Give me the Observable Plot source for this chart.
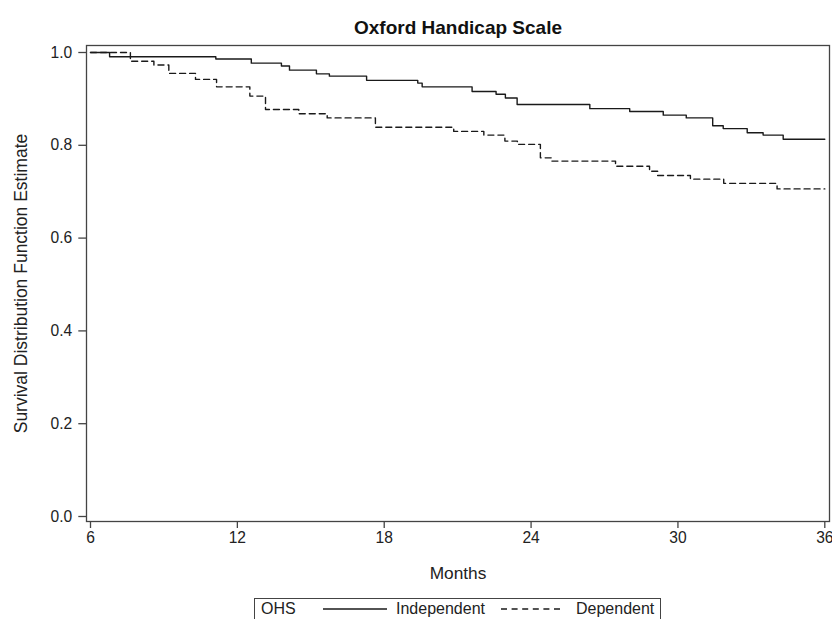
<!DOCTYPE html>
<html>
<head>
<meta charset="utf-8">
<script src="https://cdn.jsdelivr.net/npm/d3@7"></script>
<script src="https://cdn.jsdelivr.net/npm/@observablehq/plot@0.6"></script>
<style>
  html, body { margin: 0; padding: 0; background: #fff; overflow: hidden; }
  #wrap { position: relative; width: 832px; height: 619px; }
  #legend {
    position: absolute; left: 254px; top: 598px; width: 407px; height: 30px;
    border: 1.3px solid #444; box-sizing: border-box;
    font-family: "Liberation Sans", Arial, sans-serif; font-size: 16px; color: #222;
  }
  #legend span, #legend svg { position: absolute; }
  #legend span { top: 1px; line-height: 18px; }
</style>
</head>
<body>
<div id="wrap"></div>
<script>
const titleText = "Oxford Handicap Scale";
const xLabel = "Months";
const yLabel = "Survival Distribution Function Estimate";
const legendTitle = "OHS";
const groups = ["Independent", "Dependent"];
const xTicks = [6, 12, 18, 24, 30, 36];
const yTicks = [0, 0.2, 0.4, 0.6, 0.8, 1.0];

const monthsIndependent = [6, 6.78, 11.12, 12.57, 13.80, 14.13, 15.23, 15.76, 17.28, 19.37, 19.55, 21.59, 22.57, 22.95, 23.43, 26.40, 28.03, 29.40, 30.34, 31.42, 31.85, 32.83, 33.48, 34.30, 36];
const survivalIndependent = [1.0, 0.991, 0.986, 0.977, 0.971, 0.962, 0.954, 0.949, 0.940, 0.934, 0.926, 0.916, 0.910, 0.902, 0.888, 0.879, 0.873, 0.865, 0.859, 0.842, 0.836, 0.827, 0.822, 0.813, 0.813];

const monthsDependent = [6, 7.63, 8.59, 9.20, 10.29, 11.15, 12.51, 13.15, 14.51, 15.67, 17.64, 20.84, 22.07, 22.93, 23.44, 24.38, 24.83, 27.45, 28.84, 29.17, 30.51, 31.87, 34.05, 36];
const survivalDependent = [1.0, 0.981, 0.973, 0.955, 0.942, 0.926, 0.906, 0.877, 0.868, 0.859, 0.839, 0.830, 0.822, 0.809, 0.802, 0.773, 0.766, 0.755, 0.744, 0.735, 0.727, 0.718, 0.706, 0.706];

const ind = monthsIndependent.map((m, i) => ({month: m, surv: survivalIndependent[i], group: groups[0]}));
const dep = monthsDependent.map((m, i) => ({month: m, surv: survivalDependent[i], group: groups[1]}));

const lineColor = "#1a1a1a";
const frameColor = "#444";

const chart = Plot.plot({
  width: 832,
  height: 596,
  marginLeft: 86,
  marginRight: 3,
  marginTop: 45,
  marginBottom: 75,
  insetLeft: 4,
  insetRight: 4.7,
  insetTop: 7,
  insetBottom: 5,
  style: {fontFamily: "'Liberation Sans', Arial, sans-serif", fontSize: "15.6px", color: "#222", background: "white"},
  x: {domain: [6, 36], label: null},
  y: {domain: [0, 1], label: null},
  marks: [
    Plot.frame({stroke: frameColor, strokeWidth: 1.3}),
    Plot.axisX({ticks: xTicks, tickSize: 7, tickPadding: 3, tickFormat: d => String(d), label: null, stroke: frameColor, strokeWidth: 1.3}),
    Plot.axisY({ticks: yTicks, tickSize: 7.7, tickPadding: 6.6, tickFormat: d3.format(".1f"), label: null, stroke: frameColor, strokeWidth: 1.3}),
    Plot.line(ind, {x: "month", y: "surv", curve: "step-after", stroke: lineColor, strokeWidth: 1.4}),
    Plot.line(dep, {x: "month", y: "surv", curve: "step-after", stroke: lineColor, strokeWidth: 1.4, strokeDasharray: "6,4"}),
    Plot.text([titleText], {text: d => d, frameAnchor: "top", lineAnchor: "middle", textAnchor: "middle", dy: -18, fontWeight: "bold", fontSize: 19, fill: "#111"}),
    Plot.text([xLabel], {text: d => d, frameAnchor: "bottom", lineAnchor: "middle", textAnchor: "middle", dy: 52, fontSize: 17.3, fill: "#222"}),
    Plot.text([yLabel], {text: d => d, frameAnchor: "left", lineAnchor: "middle", textAnchor: "middle", dx: -65.3, rotate: -90, fontSize: 17.5, fill: "#222"})
  ]
});

const wrap = document.getElementById("wrap");
wrap.appendChild(chart);

// Legend below the chart
const legend = document.createElement("div");
legend.id = "legend";
const items = [
  {type: "text", text: legendTitle, left: 6},
  {type: "line", dash: null, left: 68, width: 64},
  {type: "text", text: groups[0], left: 141},
  {type: "line", dash: "6,4.6", left: 246, width: 59},
  {type: "text", text: groups[1], left: 321}
];
for (const it of items) {
  if (it.type === "text") {
    const s = document.createElement("span");
    s.textContent = it.text;
    s.style.left = it.left + "px";
    legend.appendChild(s);
  } else {
    const ns = "http://www.w3.org/2000/svg";
    const svg = document.createElementNS(ns, "svg");
    svg.setAttribute("width", it.width);
    svg.setAttribute("height", 4);
    svg.style.left = it.left + "px";
    svg.style.top = "8px";
    const ln = document.createElementNS(ns, "line");
    ln.setAttribute("x1", 0); ln.setAttribute("x2", it.width);
    ln.setAttribute("y1", 2); ln.setAttribute("y2", 2);
    ln.setAttribute("stroke", lineColor);
    ln.setAttribute("stroke-width", 1.3);
    if (it.dash) ln.setAttribute("stroke-dasharray", it.dash);
    svg.appendChild(ln);
    legend.appendChild(svg);
  }
}
wrap.appendChild(legend);
</script>
</body>
</html>
